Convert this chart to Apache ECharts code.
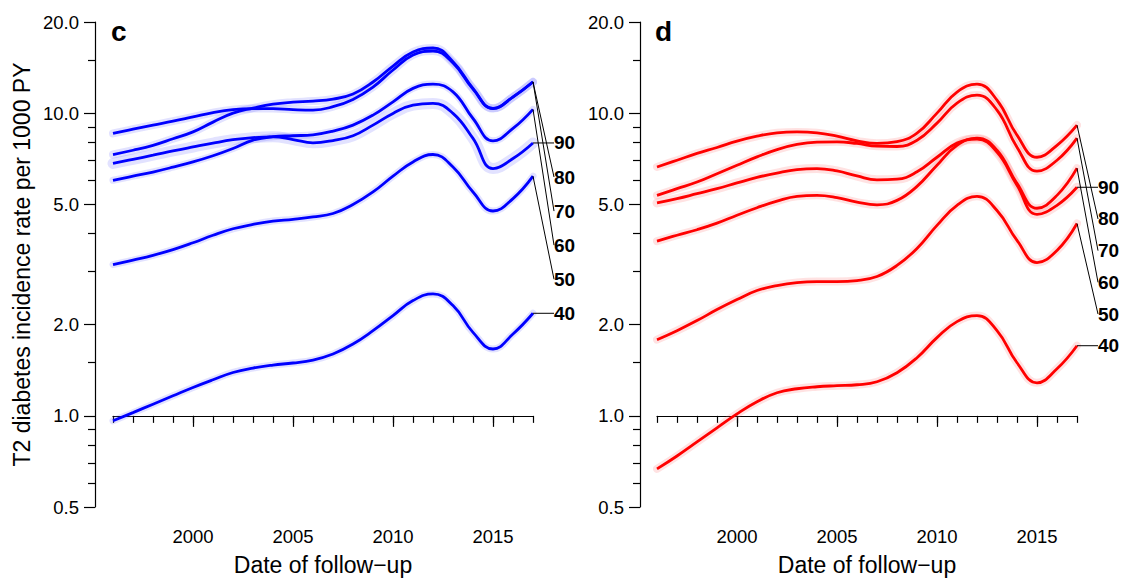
<!DOCTYPE html>
<html>
<head>
<meta charset="utf-8">
<script src="https://cdn.jsdelivr.net/npm/echarts@6/dist/echarts.min.js"></script>
<style>
  html, body { margin: 0; padding: 0; background: #ffffff; }
  #chart { width: 1127px; height: 578px; }
</style>
</head>
<body>
<div id="chart"></div>
<script>
// Follow-up years (x values of every curve)
const years = [1996, 1997, 1998, 1999, 2000, 2001, 2002, 2003, 2004, 2005, 2006,
               2007, 2008, 2009, 2010, 2011, 2012, 2013, 2014, 2015, 2016, 2017];

// Age groups, in the order of their end labels (top to bottom)
const ageGroups = ['90', '80', '70', '60', '50', '40'];

// Panel c: incidence per 1000 PY by age group
const c90 = [6.82, 7.04, 7.26, 7.50, 7.73, 7.96, 8.17, 8.30, 8.35, 8.18, 7.98, 8.12, 8.42, 9.13, 9.98, 10.63, 10.77, 9.98, 8.25, 6.56, 7.08, 7.97];
const c80 = [8.57, 8.85, 9.13, 9.41, 9.72, 10.04, 10.27, 10.35, 10.35, 10.27, 10.23, 10.50, 11.10, 12.19, 13.88, 15.56, 16.04, 14.64, 12.01, 10.35, 11.30, 12.67];
const c70 = [7.30, 7.54, 7.83, 8.23, 8.67, 9.34, 10.00, 10.39, 10.71, 10.87, 10.96, 11.13, 11.56, 12.67, 14.31, 15.92, 16.41, 14.79, 12.07, 10.37, 11.32, 12.70];
const c60 = [6.00, 6.19, 6.39, 6.63, 6.90, 7.23, 7.64, 8.14, 8.36, 8.42, 8.48, 8.72, 9.13, 9.85, 10.90, 12.07, 12.47, 11.76, 9.60, 8.10, 8.90, 10.29];
const c50 = [3.16, 3.27, 3.39, 3.54, 3.73, 3.95, 4.15, 4.29, 4.40, 4.46, 4.54, 4.66, 4.99, 5.49, 6.19, 6.90, 7.30, 6.64, 5.49, 4.75, 5.22, 6.19];
const c40 = [0.963, 1.025, 1.093, 1.165, 1.241, 1.316, 1.391, 1.439, 1.472, 1.495, 1.529, 1.601, 1.727, 1.912, 2.144, 2.403, 2.529, 2.314, 1.887, 1.663, 1.864, 2.182];

// Panel d: incidence per 1000 PY by age group
const d90 = [5.05, 5.22, 5.42, 5.63, 5.88, 6.13, 6.34, 6.51, 6.56, 6.44, 6.20, 6.02, 6.05, 6.40, 7.15, 7.96, 8.20, 7.43, 5.78, 4.63, 4.96, 5.69];
const d80 = [6.64, 6.99, 7.36, 7.70, 8.08, 8.39, 8.61, 8.67, 8.61, 8.39, 8.10, 7.95, 8.05, 8.59, 10.00, 11.74, 12.47, 11.04, 8.46, 7.15, 7.83, 9.13];
const d70 = [5.35, 5.63, 5.92, 6.31, 6.73, 7.17, 7.58, 7.88, 8.02, 8.04, 7.94, 7.78, 7.76, 8.14, 9.27, 10.79, 11.47, 10.23, 7.72, 6.43, 6.99, 8.27];
const d60 = [3.78, 3.95, 4.12, 4.33, 4.60, 4.87, 5.12, 5.31, 5.35, 5.26, 5.08, 4.98, 5.15, 5.73, 6.73, 7.83, 8.27, 7.54, 5.86, 4.85, 5.35, 6.58];
const d50 = [1.785, 1.912, 2.064, 2.244, 2.422, 2.594, 2.695, 2.757, 2.778, 2.778, 2.799, 2.886, 3.139, 3.573, 4.258, 4.96, 5.31, 4.77, 3.80, 3.21, 3.52, 4.32];
const d40 = [0.668, 0.737, 0.820, 0.913, 1.015, 1.113, 1.192, 1.229, 1.248, 1.258, 1.267, 1.296, 1.388, 1.556, 1.813, 2.048, 2.144, 1.912, 1.498, 1.286, 1.431, 1.705];

// Axis ticks
const yMajorTicks = [0.5, 1, 2, 5, 10, 20];
const yMinorTicks = [0.6, 0.7, 0.8, 0.9, 1.5, 3, 4, 6, 7, 8, 9, 15];
const xMajorTicks = [2000, 2005, 2010, 2015];

const FONT = '"Liberation Sans", Arial, Helvetica, sans-serif';
const Y_MIN = Math.log10(0.5);
const Y_MAX = Math.log10(20);
const X_MIN = 1996, X_MAX = 2017;
// horizontal reach of the label leader lines, in pixels past the last point
const LEADER_PX = 21;

const panels = [
  { letter: 'c', curves: [c90, c80, c70, c60, c50, c40], color: '#0000ff',
    halo: 'rgba(110, 110, 255, 0.2)', haloWidths: [8, 5, 5, 4, 4, 4],
    grid: { left: 113, right: 594, top: 22, bottom: 71, outerBoundsMode: 'none' },
    yOffset: 18, yName: 'T2 diabetes incidence rate per 1000 PY' },
  { letter: 'd', curves: [d90, d80, d70, d60, d50, d40], color: '#ff0000',
    halo: 'rgba(255, 110, 110, 0.2)', haloWidths: [6, 5, 5, 5, 5, 5],
    grid: { left: 657, right: 50, top: 22, bottom: 71, outerBoundsMode: 'none' },
    yOffset: 17, yName: '' }
];

const axisLineStyle = { color: '#000', width: 1.2 };
const grids = [], xAxes = [], yAxes = [], series = [], titles = [];

panels.forEach((p, pi) => {
  grids.push(p.grid);
  titles.push({ text: p.letter, left: p.grid.left - 2, top: 17, padding: 0,
    textStyle: { fontFamily: FONT, fontSize: 28, fontWeight: 'bold', color: '#000' } });

  // major x axis with labels
  xAxes.push({
    gridIndex: pi, type: 'value', min: X_MIN, max: X_MAX, position: 'bottom',
    axisLine: { show: true, lineStyle: axisLineStyle },
    axisTick: { show: true, length: 11, lineStyle: axisLineStyle, customValues: xMajorTicks },
    axisLabel: { show: true, customValues: xMajorTicks, margin: 20, fontSize: 18.5, color: '#000',
      fontFamily: FONT, formatter: v => String(v) },
    splitLine: { show: false },
    name: 'Date of follow\u2212up', nameLocation: 'middle', nameGap: 46,
    nameTextStyle: { fontFamily: FONT, fontSize: 23, color: '#000' }
  });
  // yearly minor ticks
  xAxes.push({
    gridIndex: pi, type: 'value', min: X_MIN, max: X_MAX, interval: 1, position: 'bottom',
    axisLine: { show: false }, axisLabel: { show: false }, splitLine: { show: false },
    axisTick: { show: true, length: 7, lineStyle: axisLineStyle }
  });
  // major y axis (log10 of the rate) with labels
  yAxes.push({
    gridIndex: pi, type: 'value', min: Y_MIN, max: Y_MAX, position: 'left', offset: p.yOffset,
    axisLine: { show: true, lineStyle: axisLineStyle },
    axisTick: { show: true, length: 11, lineStyle: axisLineStyle, customValues: yMajorTicks.map(Math.log10) },
    axisLabel: { show: true, customValues: yMajorTicks.map(Math.log10), margin: 16, fontSize: 18.5,
      color: '#000', fontFamily: FONT, formatter: v => Math.pow(10, v).toFixed(1) },
    splitLine: { show: false },
    name: p.yName, nameLocation: 'middle', nameGap: 62,
    nameTextStyle: { fontFamily: FONT, fontSize: 23, color: '#000' }
  });
  // minor y ticks
  yAxes.push({
    gridIndex: pi, type: 'value', min: Y_MIN, max: Y_MAX, position: 'left', offset: p.yOffset,
    axisLine: { show: false }, axisLabel: { show: false }, splitLine: { show: false },
    axisTick: { show: true, length: 7, lineStyle: axisLineStyle, customValues: yMinorTicks.map(Math.log10) }
  });

  const xi = pi * 2, yi = pi * 2;

  p.curves.forEach((vals, k) => {
    const pts = years.map((yr, i) => [yr, Math.log10(vals[i])]);
    // confidence halo under each curve
    series.push({
      type: 'line', xAxisIndex: xi, yAxisIndex: yi, data: pts, smooth: 0.45,
      showSymbol: false, silent: true, z: 1,
      lineStyle: { color: p.halo, width: p.haloWidths[k] + 3, cap: 'round' }
    });
    series.push({
      type: 'line', name: ageGroups[k], xAxisIndex: xi, yAxisIndex: yi, data: pts, smooth: 0.45,
      showSymbol: false, silent: true, z: 3,
      lineStyle: { color: p.color, width: 2.8 }
    });
  });

  // end labels: slots spread evenly (log scale) between the top and bottom curve ends
  const ends = p.curves.map(c => Math.log10(c[c.length - 1]));
  const first = ends[0], last = ends[ends.length - 1];
  const step = (last - first) / (ageGroups.length - 1);
  const leaderData = ageGroups.map((g, k) => [X_MAX, ends[k], first + step * k]);

  series.push({
    type: 'custom', xAxisIndex: xi, yAxisIndex: yi, clip: false, silent: true, z: 5,
    data: leaderData,
    encode: { x: 0, y: 1 },
    renderItem: (params, api) => {
      const p0 = api.coord([api.value(0), api.value(1)]);
      const p1 = api.coord([api.value(0), api.value(2)]);
      const x2 = p0[0] + LEADER_PX;
      return {
        type: 'group',
        children: [
          { type: 'line', shape: { x1: p0[0], y1: p0[1], x2: x2, y2: p1[1] },
            style: { stroke: '#000', lineWidth: 1 } },
          { type: 'text', x: x2, y: p1[1],
            style: { text: ageGroups[params.dataIndex], fill: '#000', fontFamily: FONT,
              fontSize: 19, fontWeight: 'bold', align: 'left', verticalAlign: 'middle' } }
        ]
      };
    }
  });
});

const chart = echarts.init(document.getElementById('chart'), null, { renderer: 'svg' });
chart.setOption({
  animation: false,
  backgroundColor: '#ffffff',
  title: titles,
  grid: grids,
  xAxis: xAxes,
  yAxis: yAxes,
  series: series
});
</script>
</body>
</html>
